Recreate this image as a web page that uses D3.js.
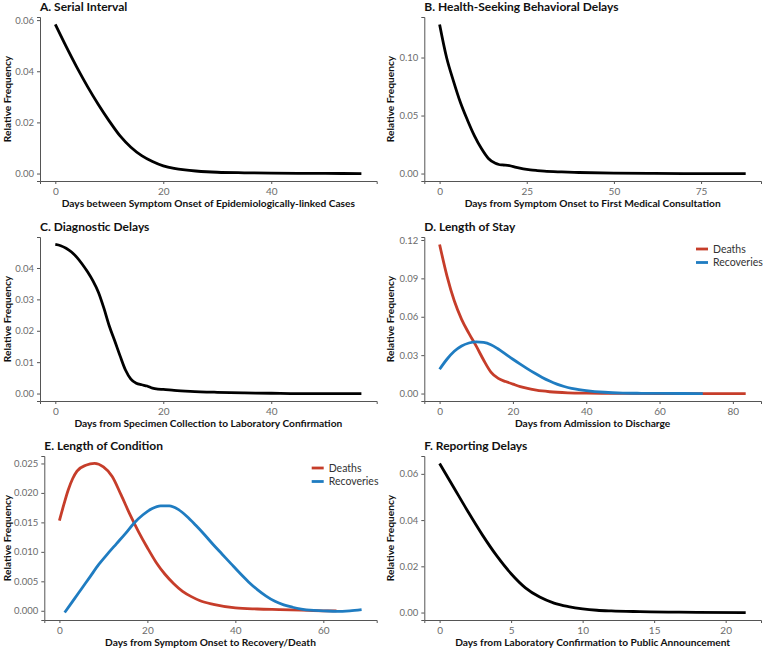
<!DOCTYPE html>
<html><head><meta charset="utf-8">
<script src="https://cdn.jsdelivr.net/npm/d3@7"></script>
<style>body{margin:0;background:#fff}svg{display:block}</style>
</head><body>
<svg id="c" width="763" height="653"></svg>
<script>
// ---------- DATA ----------
const titles = ["A. Serial Interval","B. Health-Seeking Behavioral Delays","C. Diagnostic Delays","D. Length of Stay","E. Length of Condition","F. Reporting Delays"];
const xLabels = ["Days between Symptom Onset of Epidemiologically-linked Cases","Days from Symptom Onset to First Medical Consultation","Days from Specimen Collection to Laboratory Confirmation","Days from Admission to Discharge","Days from Symptom Onset to Recovery/Death","Days from Laboratory Confirmation to Public Announcement"];
const yLabel = "Relative Frequency";
const legendLabels = ["Deaths","Recoveries"];

const aDays = [0,2,4,6,8,10,12,14,16,18,20,22,24,26,28,30,35,40,45,50,56.7];
const aVals = [0.0583,0.0497,0.0415,0.0339,0.0269,0.0205,0.0147,0.0103,0.0070,0.0047,0.0030,0.0020,0.0014,0.0010,0.0007,0.0005,0.0003,0.0002,0.0001,0.00005,0.0000];

const bDays = [0,2,4,6,8,10,12,14,16,17,18,20,22,24,26,28,30,35,40,50,60,70,87.8];
const bVals = [0.1285,0.1000,0.0795,0.0610,0.0460,0.0325,0.0215,0.0130,0.0088,0.0078,0.0074,0.0068,0.0053,0.0041,0.0032,0.0026,0.0021,0.0014,0.0009,0.0003,0.0001,0.0000,0.0000];

const cDays = [0,1,2,3,4,5,6,7,8,9,10,11,12,13,14,15,16,17,18,19,20,22,25,30,35,40,45,56.7];
const cVals = [0.0475,0.0471,0.0463,0.0451,0.0434,0.0412,0.0387,0.0358,0.0322,0.0272,0.0215,0.0168,0.0120,0.0075,0.0046,0.0033,0.0028,0.0024,0.0017,0.0014,0.0013,0.0010,0.0007,0.0004,0.0002,0.0001,0.0000,0.0000];

const dDeathDays = [0,2,4,6,8,10,12,14,16,18,20,22,24,26,28,30,35,40,50,60,83.5];
const dDeathVals = [0.1165,0.0920,0.0725,0.0580,0.0470,0.0370,0.0262,0.0168,0.0118,0.0094,0.0074,0.0054,0.0040,0.0029,0.0020,0.0014,0.0006,0.0003,0.0001,0.0000,0.0000];
const dRecDays = [0,2,4,6,8,10,12,14,16,18,20,22,24,26,28,30,32,34,36,38,40,45,50,55,60,71.8];
const dRecVals = [0.0190,0.0268,0.0330,0.0372,0.0395,0.0404,0.0400,0.0382,0.0348,0.0308,0.0268,0.0230,0.0193,0.0158,0.0126,0.0098,0.0074,0.0055,0.0041,0.0031,0.0023,0.0010,0.0004,0.0002,0.0001,0.0000];

const eDeathDays = [0,1,2,3,4,6,8,10,12,14,16,18,20,22,24,26,28,30,32,35,40,45,50,55,60,63];
const eDeathVals = [0.0153,0.0180,0.0205,0.0224,0.0237,0.0247,0.0250,0.0244,0.0228,0.0197,0.0164,0.0134,0.0107,0.0082,0.0062,0.0046,0.0033,0.0024,0.0017,0.0011,0.0005,0.0003,0.0002,0.0001,0.0000,0.0000];
const eRecDays = [1.2,3,5,7,9,11,13,15,17,19,21,23,25,27,29,31,33,35,37,39,41,43,45,47,49,51,53,55,57,60,63,66,68.7];
const eRecVals = [-0.0003,0.0016,0.0037,0.0058,0.0079,0.0097,0.0114,0.0131,0.0149,0.0163,0.0173,0.0178,0.0178,0.0172,0.0160,0.0145,0.0129,0.0112,0.0096,0.0080,0.0064,0.0049,0.0036,0.0025,0.0016,0.0010,0.0006,0.0003,0.0001,0.0000,-0.0001,0.0000,0.0002];

const fDays = [0,1,2,3,4,5,6,7,8,9,10,11,12,14,16,18,21.4];
const fVals = [0.0645,0.0540,0.0435,0.0335,0.0245,0.0168,0.0107,0.0067,0.0041,0.0026,0.0016,0.0010,0.0007,0.0004,0.0002,0.0001,0.0000];

const xTicks = [[0,20,40],[0,25,50,75],[0,20,40],[0,20,40,60,80],[0,20,40,60],[0,5,10,15,20]];
const yTicks = [[0,0.02,0.04,0.06],[0,0.05,0.10],[0,0.01,0.02,0.03,0.04],[0,0.03,0.06,0.09,0.12],[0,0.005,0.010,0.015,0.020,0.025],[0,0.02,0.04,0.06]];
const yFormats = [".2f",".2f",".2f",".2f",".3f",".2f"];

// ---------- LAYOUT ----------
const BLACK = "#000", RED = "#c63d2a", BLUE = "#1f7cc1";
const FONT = "Lato, 'Open Sans', sans-serif";
const panels = [
  {L:40,   R:376.7, T:17,  B:181, series:[[aDays,aVals,BLACK]]},
  {L:424.3,R:761,   T:17,  B:181, series:[[bDays,bVals,BLACK]]},
  {L:40,   R:376.7, T:237, B:401, series:[[cDays,cVals,BLACK]]},
  {L:424.3,R:761,   T:237, B:401, series:[[dDeathDays,dDeathVals,RED],[dRecDays,dRecVals,BLUE]], legend:true},
  {L:44.3, R:376.7, T:456, B:620, series:[[eDeathDays,eDeathVals,RED],[eRecDays,eRecVals,BLUE]], legend:true},
  {L:424.3,R:761,   T:456, B:620, series:[[fDays,fVals,BLACK]]}
];

const svg = d3.select("#c");

function expand(ext){ const d=(ext[1]-ext[0])*0.05; return [ext[0]-d, ext[1]+d]; }

panels.forEach((p,i)=>{
  const allX = p.series.flatMap(s=>s[0]);
  const allY = p.series.flatMap(s=>s[1]);
  const x = d3.scaleLinear().domain(expand(d3.extent(allX))).range([p.L,p.R]);
  const y = d3.scaleLinear().domain(expand(d3.extent(allY))).range([p.B,p.T]);
  const g = svg.append("g");

  // axes
  const xa = g.append("g").attr("transform",`translate(0,${p.B})`)
    .call(d3.axisBottom(x).tickValues(xTicks[i]).tickSize(3).tickPadding(4).tickFormat(d3.format("d")));
  const ya = g.append("g").attr("transform",`translate(${p.L},0)`)
    .call(d3.axisLeft(y).tickValues(yTicks[i]).tickSize(3).tickPadding(3).tickFormat(d3.format(yFormats[i])));
  [xa,ya].forEach(a=>{
    a.select(".domain").attr("stroke","#555").attr("stroke-width",1);
    a.selectAll(".tick line").attr("stroke","#555");
    a.selectAll(".tick text").attr("fill","#6b6b6b").attr("font-family",FONT).attr("font-size",9.5);
  });
  xa.selectAll(".tick text").attr("font-size",10);

  // lines
  const line = d3.line().x(d=>x(d[0])).y(d=>y(d[1])).curve(d3.curveMonotoneX);
  p.series.forEach(s=>{
    g.append("path").datum(d3.zip(s[0],s[1]))
      .attr("d",line).attr("fill","none").attr("stroke",s[2]).attr("stroke-width",2.8).attr("stroke-linejoin","round");
  });

  // title
  g.append("text").attr("x",p.L).attr("y",p.T-6).text(titles[i])
    .attr("font-family",FONT).attr("font-weight","bold").attr("font-size",12).attr("fill","#111");
  // x label
  g.append("text").attr("x",(p.L+p.R)/2).attr("y",p.B+26).attr("text-anchor","middle").text(xLabels[i])
    .attr("font-family",FONT).attr("font-weight","bold").attr("font-size",10.2).attr("fill","#111");
  // y label
  const yl = (i%2===0)?10.5:394;
  g.append("text").attr("transform",`translate(${yl},${(p.T+p.B)/2}) rotate(-90)`).attr("text-anchor","middle").text(yLabel)
    .attr("font-family",FONT).attr("font-weight","bold").attr("font-size",10.2).attr("fill","#111");

  // legend
  if(p.legend){
    const lx = p.R - 65, ly = p.T + 12;
    legendLabels.forEach((lab,k)=>{
      const yy = ly + k*13.5;
      g.append("line").attr("x1",lx).attr("x2",lx+12).attr("y1",yy).attr("y2",yy)
        .attr("stroke",k===0?RED:BLUE).attr("stroke-width",2.8);
      g.append("text").attr("x",lx+17).attr("y",yy+3.5).text(lab)
        .attr("font-family",FONT).attr("font-size",10.5).attr("fill","#333");
    });
  }
});
</script>
</body></html>
